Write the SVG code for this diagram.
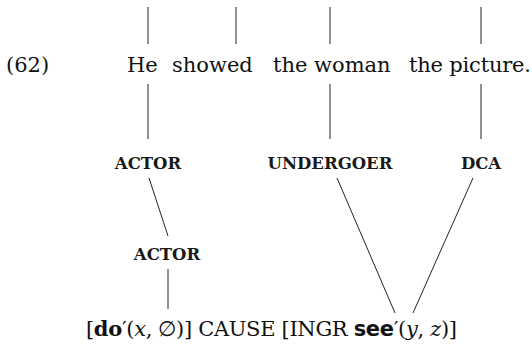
<svg xmlns="http://www.w3.org/2000/svg" width="532" height="345" viewBox="0 0 532 345">
  <style>
    .w { font-family: "DejaVu Serif", "Liberation Serif", serif; font-size: 21px; fill: #111; }
    .lab { font-family: "DejaVu Serif", "Liberation Serif", serif; font-size: 16.5px; font-weight: bold; fill: #1a1a1a; text-anchor: middle; }
    .b { font-weight: bold; }
    .bs { font-family: "DejaVu Sans", "Liberation Sans", sans-serif; font-weight: bold; }
    .i { font-style: italic; }
    .ln { stroke: #222; stroke-width: 1; fill: none; }
  </style>
  <rect width="532" height="345" fill="#fff"/>

  <!-- example number -->
  <g id="exnum"><text class="w" x="6" y="72">(62)</text></g>

  <!-- sentence words -->
  <g id="w-he"><text class="w" x="127" y="72">He</text></g>
  <g id="w-showed"><text class="w" x="172" y="72">showed</text></g>
  <g id="w-woman"><text class="w" x="273" y="72">the woman</text></g>
  <g id="w-picture"><text class="w" x="409" y="72" textLength="122">the picture.</text></g>

  <!-- macrorole labels -->
  <g id="r-actor"><text class="lab" x="148" y="169">ACTOR</text></g>
  <g id="r-undergoer"><text class="lab" x="330" y="169">UNDERGOER</text></g>
  <g id="r-dca"><text class="lab" x="481" y="169">DCA</text></g>
  <g id="r-actor2"><text class="lab" x="167" y="260">ACTOR</text></g>

  <!-- logical structure -->
  <g id="ls">
    <text class="w" x="86" y="336" textLength="371" lengthAdjust="spacing">[<tspan class="b">do</tspan>′(<tspan class="i">x</tspan>, ∅)] CAUSE [INGR <tspan class="bs">see</tspan>′(<tspan class="i">y</tspan>, <tspan class="i">z</tspan>)]</text>
  </g>

  <!-- linking lines -->
  <g id="connectors" class="ln">
    <line class="ln" x1="148" y1="7" x2="148" y2="44"/>
    <line class="ln" x1="236" y1="7" x2="236" y2="44"/>
    <line class="ln" x1="330" y1="7" x2="330" y2="44"/>
    <line class="ln" x1="481" y1="7" x2="481" y2="44"/>
    <line class="ln" x1="148" y1="84" x2="148" y2="139"/>
    <line class="ln" x1="330" y1="84" x2="330" y2="139"/>
    <line class="ln" x1="481" y1="84" x2="481" y2="139"/>
    <line class="ln" x1="149" y1="178" x2="168" y2="236"/>
    <line class="ln" x1="168" y1="269" x2="168" y2="309"/>
    <line class="ln" x1="337" y1="178" x2="395" y2="313"/>
    <line class="ln" x1="473" y1="178" x2="413" y2="313"/>
  </g>
</svg>
